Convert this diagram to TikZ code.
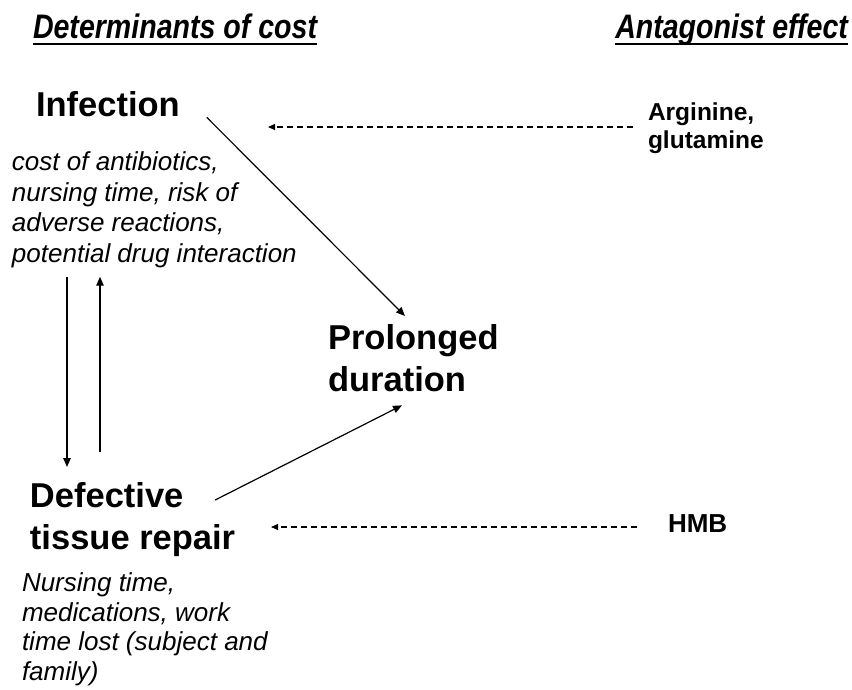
\documentclass[tikz,border=0pt]{standalone}
\usepackage{fontspec}
\setmainfont{Liberation Sans}
\usetikzlibrary{
    arrows.meta,
    calc
}
\newcommand{\narrowhd}[1]{\scalebox{0.84}[1]{\bfseries\itshape #1}}

\begin{document}
\begin{tikzpicture}[x=1pt,y=-1pt,
    every node/.style={inner sep=0pt,outer sep=0pt},
    heading/.style={font=\fontsize{34}{40}\selectfont},
    factor/.style={font=\fontsize{34.5}{42}\selectfont\bfseries,align=left},
    costs/.style={font=\fontsize{26}{30.5}\selectfont\itshape,align=left},
    agent/.style={font=\fontsize{24.5}{27.5}\selectfont\bfseries,align=left},
    link/.style={line width=1.2pt,-{Triangle[length=9pt,width=7.5pt]}},
    block/.style={line width=1.1pt,dash pattern=on 6pt off 4pt,-{Triangle[length=7pt,width=6pt]}},
    hdline/.style={line width=2.6pt}]
    \useasboundingbox (0,0) rectangle (852,690);

    % column headings
    \node[heading,anchor=base west] (hdcost) at (33,39)  {\narrowhd{Determinants of cost}};
    \node[heading,anchor=base east] (hdanta) at (848,39) {\narrowhd{Antagonist effect}};
    \draw[hdline] ([yshift=-5pt]hdcost.base west) -- ([yshift=-5pt]hdcost.base east);
    \draw[hdline] ([yshift=-5pt]hdanta.base west) -- ([yshift=-5pt]hdanta.base east);

    % determinants
    \node[factor,anchor=base west] (infection) at (36,117) {Infection};
    \node[costs,anchor=north west] (infcost) at (12,152)
        {cost of antibiotics,\\nursing time, risk of\\adverse reactions,\\potential drug interaction};
    \node[factor,anchor=north west] (prolonged) at (328,324) {Prolonged\\duration};
    \node[factor,anchor=north west] (defective) at (30,482) {Defective\\tissue repair};
    \node[costs,font=\fontsize{26}{29.5}\selectfont\itshape,anchor=north west] (repcost) at (22,573)
        {Nursing time,\\medications, work\\time lost (subject and\\family)};

    % antagonists
    \node[agent,anchor=north west] (arginine) at (648,103) {Arginine,\\glutamine};
    \node[agent,font=\fontsize{26}{30}\selectfont\bfseries,anchor=base west] (hmb) at (668,532) {HMB};
    \coordinate (infhit) at (268,127);
    \coordinate (rephit) at (271,527);

    \draw[link] ([xshift=27pt]infection.south east) -- ([xshift=77pt,yshift=8pt]prolonged.north west);
    \draw[link] ([xshift=-20pt,yshift=-18pt]defective.north east) -- ([xshift=74pt,yshift=-14pt]prolonged.south west);
    \draw[link] ([xshift=55pt,yshift=-9pt]infcost.south west) -- ([xshift=37pt,yshift=15pt]defective.north west);
    \draw[link] ([xshift=70pt,yshift=30pt]defective.north west) -- ([xshift=88pt,yshift=-9pt]infcost.south west);

    \draw[block] (arginine.west |- infhit) ++(-15,0) -- (infhit);
    \draw[block] ([xshift=-31pt]hmb.west |- rephit) -- (rephit);
\end{tikzpicture}
\end{document}
